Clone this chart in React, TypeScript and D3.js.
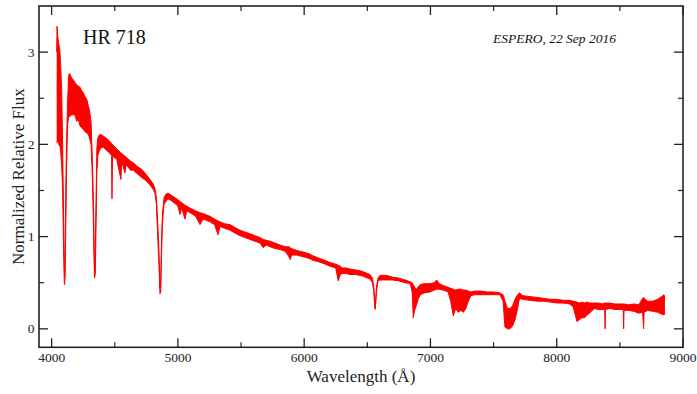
import React from "react";
import * as d3 from "d3";

// Spectrum: wavelength (Å), upper and lower envelope of the noisy flux band
const wavelength = [
  4040, 4043, 4048, 4055, 4065, 4072, 4080, 4086, 4094, 4100, 4103, 4107, 4112, 4118, 4126, 4134, 4140,
  4160, 4185, 4198, 4211, 4225, 4238, 4251, 4264, 4278, 4290, 4298, 4312,
  4320, 4327, 4334, 4340, 4346, 4352, 4358, 4366, 4376, 4388,
  4409, 4440, 4462, 4475, 4478, 4482, 4515, 4549, 4555, 4581, 4590, 4625, 4647, 4680, 4713, 4745, 4779, 4805, 4818,
  4830, 4840, 4850, 4858, 4864, 4870, 4878, 4890, 4905, 4920,
  4937, 4977, 5000, 5017, 5030, 5056, 5070, 5096, 5140, 5175, 5200, 5254, 5290, 5318, 5333, 5370, 5413, 5450,
  5492, 5530, 5571, 5610, 5650, 5676, 5700, 5729, 5770, 5808, 5850, 5880, 5890, 5900, 5941, 5967, 6000, 6046,
  6073, 6109, 6150, 6204, 6250, 6270, 6284, 6300, 6330, 6360, 6400, 6442, 6468, 6500, 6521, 6540,
  6550, 6557, 6562, 6567, 6574, 6585, 6600, 6650, 6700, 6750, 6800, 6840, 6855, 6864, 6875, 6890, 6905, 6920,
  6950, 6996, 7030, 7049, 7070, 7100, 7140, 7160, 7181, 7200, 7220, 7240, 7260, 7280, 7300, 7320, 7350, 7400,
  7450, 7500, 7550, 7575, 7590, 7610, 7630, 7650, 7670, 7690, 7705, 7730, 7780, 7850, 7900, 7950, 8000, 8050,
  8100, 8130, 8160, 8180, 8200, 8220, 8240, 8260, 8280, 8300, 8330, 8360, 8380, 8383, 8386, 8420, 8460, 8500,
  8527, 8530, 8533, 8570, 8610, 8650, 8680, 8688, 8692, 8720, 8760, 8800, 8830, 8850, 8857,
];
const fluxHigh = [
  3.0, 3.28, 3.18, 3.1, 3.02, 2.85, 2.56, 2.1, 1.3, 0.7, 0.55, 0.85, 1.5, 2.0, 2.45, 2.72, 2.77,
  2.72, 2.67, 2.65, 2.63, 2.62, 2.58, 2.56, 2.52, 2.49, 2.42, 2.38, 2.25,
  1.95, 1.6, 1.15, 0.6, 0.9, 1.4, 1.95, 2.07, 2.1, 2.11,
  2.09, 2.06, 2.03, 2.01, 2.0, 2.0, 1.95, 1.91, 1.9, 1.87, 1.86, 1.82, 1.8, 1.76, 1.73, 1.68, 1.62, 1.57, 1.52,
  1.42, 1.15, 0.85, 0.45, 0.5, 0.95, 1.25, 1.42, 1.46, 1.47,
  1.46, 1.42, 1.4, 1.38, 1.37, 1.34, 1.33, 1.31, 1.28, 1.26, 1.25, 1.22, 1.19, 1.17, 1.16, 1.14, 1.13, 1.1,
  1.07, 1.05, 1.03, 1.01, 0.99, 0.97, 0.96, 0.95, 0.93, 0.91, 0.89, 0.89, 0.88, 0.87, 0.85, 0.84, 0.83, 0.81,
  0.79, 0.77, 0.75, 0.72, 0.7, 0.69, 0.68, 0.66, 0.66, 0.65, 0.64, 0.63, 0.62, 0.6, 0.59, 0.55,
  0.47, 0.35, 0.23, 0.35, 0.47, 0.55, 0.58, 0.58, 0.56, 0.55, 0.53, 0.51, 0.5, 0.48, 0.45, 0.43, 0.46, 0.48,
  0.49, 0.49, 0.5, 0.53, 0.49, 0.47, 0.45, 0.44, 0.43, 0.42, 0.43, 0.43, 0.42, 0.42, 0.41, 0.4, 0.41, 0.41,
  0.4, 0.4, 0.39, 0.37, 0.3, 0.22, 0.22, 0.25, 0.32, 0.37, 0.39, 0.36, 0.35, 0.34, 0.33, 0.32, 0.32, 0.31,
  0.31, 0.3, 0.29, 0.28, 0.29, 0.28, 0.29, 0.28, 0.28, 0.28, 0.28, 0.27, 0.28, 0.28, 0.28, 0.28, 0.27, 0.27,
  0.27, 0.27, 0.27, 0.26, 0.27, 0.26, 0.33, 0.34, 0.33, 0.3, 0.3, 0.32, 0.35, 0.37, 0.33,
];
const fluxLow = [
  2.02, 2.02, 2.05, 2.0, 1.98, 1.92, 1.75, 1.55, 0.95, 0.5, 0.48, 0.6, 1.1, 1.7, 2.2, 2.3, 2.3,
  2.32, 2.32, 2.25, 2.27, 2.2, 2.18, 2.16, 2.14, 2.12, 2.11, 2.08, 2.0,
  1.75, 1.4, 0.9, 0.55, 0.6, 1.15, 1.7, 1.88, 1.92, 1.96,
  1.97, 1.93, 1.9, 1.88, 1.41, 1.87, 1.84, 1.62, 1.81, 1.69, 1.78, 1.72, 1.72, 1.68, 1.64, 1.61, 1.56, 1.51, 1.47,
  1.35, 1.0, 0.7, 0.38, 0.4, 0.8, 1.15, 1.35, 1.38, 1.41,
  1.4, 1.36, 1.33, 1.24, 1.31, 1.19, 1.28, 1.26, 1.22, 1.13, 1.19, 1.16, 1.13, 1.02, 1.11, 1.09, 1.07, 1.04,
  1.01, 0.99, 0.97, 0.95, 0.93, 0.88, 0.91, 0.89, 0.87, 0.86, 0.84, 0.78, 0.75, 0.8, 0.8, 0.79, 0.78, 0.76,
  0.74, 0.73, 0.71, 0.68, 0.66, 0.52, 0.58, 0.6, 0.6, 0.59, 0.59, 0.58, 0.57, 0.55, 0.54, 0.5,
  0.42, 0.28, 0.21, 0.28, 0.42, 0.52, 0.53, 0.53, 0.53, 0.52, 0.5, 0.49, 0.4, 0.12, 0.2, 0.26, 0.33, 0.37,
  0.39, 0.4, 0.42, 0.43, 0.43, 0.42, 0.4, 0.3, 0.14, 0.22, 0.18, 0.2, 0.18, 0.22, 0.3, 0.36, 0.37, 0.37,
  0.37, 0.37, 0.37, 0.3, 0.02, 0.0, 0.0, 0.03, 0.1, 0.22, 0.33, 0.32, 0.31, 0.3, 0.3, 0.29, 0.28, 0.28,
  0.27, 0.24, 0.08, 0.1, 0.12, 0.12, 0.15, 0.17, 0.2, 0.22, 0.21, 0.21, 0.21, 0.0, 0.21, 0.22, 0.21, 0.21,
  0.21, 0.0, 0.2, 0.2, 0.19, 0.17, 0.18, 0.0, 0.18, 0.2, 0.19, 0.18, 0.16, 0.15, 0.17,
];

const xMajorTicks = [4000, 5000, 6000, 7000, 8000, 9000];
const xMinorTicks = [4500, 5500, 6500, 7500, 8500];
const yMajorTicks = [0, 1, 2, 3];
const yMinorTicks = [0.5, 1.5, 2.5];

const FONT = "'Liberation Serif', 'Times New Roman', Times, serif";

export default function App() {
  const W = 697, H = 394;
  const x = d3.scaleLinear().domain([3900, 9000]).range([39, 683]);
  const y = d3.scaleLinear().domain([-0.2, 3.5]).range([347.3, 6]);

  const rows = wavelength.map((w, i) => ({ w, hi: fluxHigh[i], lo: fluxLow[i] }));
  const area = d3
    .area<{ w: number; hi: number; lo: number }>()
    .x((d) => x(d.w))
    .y0((d) => y(d.lo))
    .y1((d) => y(d.hi));
  const hiLine = d3.line<{ w: number; hi: number; lo: number }>().x((d) => x(d.w)).y((d) => y(d.hi));
  const loLine = d3.line<{ w: number; hi: number; lo: number }>().x((d) => x(d.w)).y((d) => y(d.lo));

  const [x0, x1] = x.range();
  const [yb, yt] = y.range();
  const major = 9, minor = 5;
  const axisColor = "#222";

  return (
    <svg width={W} height={H} style={{ position: "absolute", left: 0, top: 0, background: "#fff" }}>
      <rect x={0} y={0} width={W} height={H} fill="#fff" />
      {/* spectrum */}
      <path d={area(rows) || ""} fill="#ff0000" stroke="none" />
      <path d={hiLine(rows) || ""} fill="none" stroke="#ff0000" strokeWidth={1} />
      <path d={loLine(rows) || ""} fill="none" stroke="#ff0000" strokeWidth={1} />

      {/* frame */}
      <rect x={x0} y={yt} width={x1 - x0} height={yb - yt} fill="none" stroke={axisColor} strokeWidth={1.6} />

      {/* x ticks */}
      {xMajorTicks.map((t) => (
        <g key={"xM" + t}>
          <line x1={x(t)} x2={x(t)} y1={yb} y2={yb - major} stroke={axisColor} strokeWidth={1.3} />
          <line x1={x(t)} x2={x(t)} y1={yt} y2={yt + major} stroke={axisColor} strokeWidth={1.3} />
          <text x={x(t)} y={361.5} textAnchor="middle" fontFamily={FONT} fontSize={13.5} fill="#222">
            {t}
          </text>
        </g>
      ))}
      {xMinorTicks.map((t) => (
        <g key={"xm" + t}>
          <line x1={x(t)} x2={x(t)} y1={yb} y2={yb - minor} stroke={axisColor} strokeWidth={1.2} />
          <line x1={x(t)} x2={x(t)} y1={yt} y2={yt + minor} stroke={axisColor} strokeWidth={1.2} />
        </g>
      ))}
      {/* y ticks */}
      {yMajorTicks.map((t) => (
        <g key={"yM" + t}>
          <line x1={x0} x2={x0 + major} y1={y(t)} y2={y(t)} stroke={axisColor} strokeWidth={1.3} />
          <line x1={x1} x2={x1 - major} y1={y(t)} y2={y(t)} stroke={axisColor} strokeWidth={1.3} />
          <text x={34.5} y={y(t) + 4.5} textAnchor="end" fontFamily={FONT} fontSize={13.5} fill="#222">
            {t}
          </text>
        </g>
      ))}
      {yMinorTicks.map((t) => (
        <g key={"ym" + t}>
          <line x1={x0} x2={x0 + minor} y1={y(t)} y2={y(t)} stroke={axisColor} strokeWidth={1.2} />
          <line x1={x1} x2={x1 - minor} y1={y(t)} y2={y(t)} stroke={axisColor} strokeWidth={1.2} />
        </g>
      ))}

      {/* titles */}
      <text x={361} y={382} textAnchor="middle" fontFamily={FONT} fontSize={17} fill="#222">
        Wavelength (Å)
      </text>
      <text
        transform={`translate(23.5, ${(yb + yt) / 2}) rotate(-90)`}
        textAnchor="middle"
        fontFamily={FONT}
        fontSize={17}
        fill="#222"
      >
        Normalized Relative Flux
      </text>
      <text x={83} y={44} fontFamily={FONT} fontSize={20} fill="#111">
        HR 718
      </text>
      <text x={493} y={43} fontFamily={FONT} fontSize={13.5} fontStyle="italic" fill="#111">
        ESPERO, 22 Sep 2016
      </text>
    </svg>
  );
}
